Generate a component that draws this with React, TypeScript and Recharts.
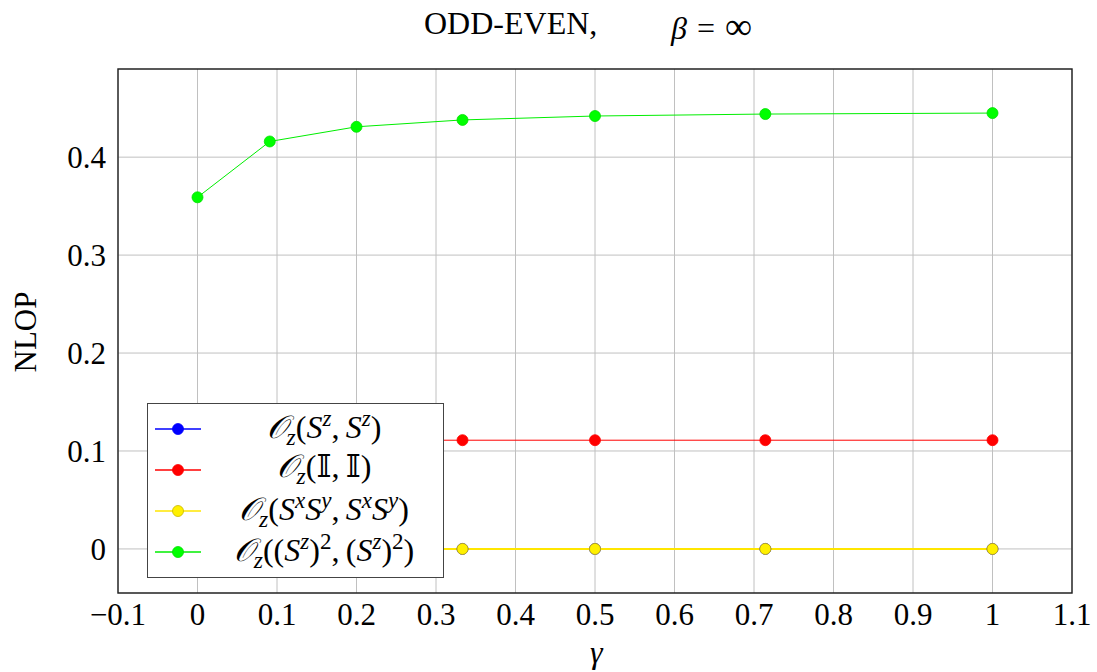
import React from 'react';
import { CartesianGrid, Legend, Line, LineChart, ReferenceArea, XAxis, YAxis } from 'recharts';

// gamma values on the x axis
const gamma = [0, 1 / 11, 1 / 5, 1 / 3, 1 / 2, 5 / 7, 1];

// NLOP series
const szSz = [0, 0, 0, 0, 0, 0, 0];
const idId = [0.111, 0.111, 0.111, 0.111, 0.111, 0.111, 0.111];
const sxsySxsy = [0, 0, 0, 0, 0, 0, 0];
const sz2Sz2 = [0.359, 0.416, 0.431, 0.438, 0.442, 0.444, 0.445];

const xTicks = [-0.1, 0, 0.1, 0.2, 0.3, 0.4, 0.5, 0.6, 0.7, 0.8, 0.9, 1, 1.1];
const yTicks = [0, 0.1, 0.2, 0.3, 0.4];

const data = gamma.map((g, i) => ({
  g,
  szSz: szSz[i],
  idId: idId[i],
  sxsySxsy: sxsySxsy[i],
  sz2Sz2: sz2Sz2[i],
}));

const FONT = '"Liberation Serif", "DejaVu Serif", serif';

const it = (s: string) => <i>{s}</i>;
const sub = (s: React.ReactNode) => (
  <span style={{ fontSize: '0.74em', verticalAlign: '-0.3em', fontStyle: 'italic' }}>{s}</span>
);
const sup = (s: React.ReactNode) => (
  <span style={{ fontSize: '0.72em', verticalAlign: '0.5em' }}>{s}</span>
);
const Oz = (
  <>
    <span style={{ fontStyle: 'italic' }}>𝒪</span>
    {sub('z')}
  </>
);
const comma = <span style={{ marginRight: '0.2em' }}>,</span>;

const series = [
  {
    key: 'szSz',
    color: '#0000ff',
    fill: '#0000ff',
    dotStroke: '#0000ff',
    crisp: true,
    label: (
      <>
        {Oz}({it('S')}{sup(it('z'))}{comma}{it('S')}{sup(it('z'))})
      </>
    ),
  },
  {
    key: 'idId',
    color: '#ff0000',
    fill: '#ff0000',
    dotStroke: '#ff0000',
    crisp: false,
    label: <>{Oz}(𝕀{comma}𝕀)</>,
  },
  {
    key: 'sxsySxsy',
    color: '#ffe600',
    fill: '#fff000',
    dotStroke: '#c9b800',
    crisp: true,
    label: (
      <>
        {Oz}({it('S')}{sup(it('x'))}{it('S')}{sup(it('y'))}{comma}{it('S')}{sup(it('x'))}{it('S')}{sup(it('y'))})
      </>
    ),
  },
  {
    key: 'sz2Sz2',
    color: '#00ee00',
    fill: '#00ff00',
    dotStroke: '#00e000',
    crisp: false,
    label: (
      <>
        {Oz}(({it('S')}{sup(it('z'))}){sup('2')}{comma}({it('S')}{sup(it('z'))}){sup('2')})
      </>
    ),
  },
];

const fmt = (v: number) => {
  if (v === 0) return '0';
  if (v === 1) return '1';
  return v.toFixed(1).replace('-', '\u2212');
};

const LegendBox = () => (
  <div
    style={{
      width: 297,
      height: 175,
      boxSizing: 'border-box',
      border: '1.5px solid #444',
      background: '#fff',
      paddingTop: 4,
      fontFamily: FONT,
    }}
  >
    {series.map((s) => (
      <div key={s.key} style={{ display: 'flex', alignItems: 'center', height: 41 }}>
        <svg width={50} height={20} style={{ marginLeft: 7, flexShrink: 0 }}>
          <line x1={0} x2={46} y1={10} y2={10} stroke={s.color} strokeWidth={1.3} />
          <circle cx={23} cy={10} r={5.5} fill={s.fill} stroke={s.dotStroke} strokeWidth={0.8} />
        </svg>
        <div style={{ flex: 1, textAlign: 'center', fontSize: 32, lineHeight: 1, whiteSpace: 'nowrap', color: '#000' }}>
          {s.label}
        </div>
      </div>
    ))}
  </div>
);

export default function App() {
  return (
    <div style={{ position: 'absolute', left: 0, top: 0, width: 1097, height: 672, background: '#fff', fontFamily: FONT }}>
      <LineChart
        width={1097}
        height={672}
        data={data}
        margin={{ top: 69, right: 25, bottom: 0, left: 0 }}
      >
        <CartesianGrid stroke="#c0c0c0" strokeWidth={1} horizontalValues={yTicks} verticalValues={xTicks} />
        <XAxis
          dataKey="g"
          type="number"
          domain={[-0.1, 1.1]}
          ticks={xTicks}
          tickFormatter={fmt}
          height={79}
          tickSize={0}
          tickMargin={10}
          axisLine={false}
          tick={{ fill: '#000', fontSize: 31, fontFamily: FONT }}
          interval={0}
          allowDataOverflow
        />
        <YAxis
          type="number"
          domain={[-0.045, 0.49]}
          ticks={yTicks}
          tickFormatter={fmt}
          width={118}
          tickSize={0}
          tickMargin={12}
          axisLine={false}
          tick={{ fill: '#000', fontSize: 31, fontFamily: FONT }}
          interval={0}
          allowDataOverflow
        />
        <ReferenceArea
          x1={-0.1}
          x2={1.1}
          y1={-0.045}
          y2={0.49}
          fill="none"
          stroke="#222"
          strokeWidth={1.4}
          ifOverflow="visible"
        />
        {series.map((s) => (
          <Line
            key={s.key}
            dataKey={s.key}
            type="linear"
            stroke={s.color}
            strokeWidth={s.crisp ? 1.5 : 1}
            shapeRendering={s.crisp ? 'crispEdges' : undefined}
            dot={{ r: 5.5, fill: s.fill, stroke: s.dotStroke, strokeWidth: 0.8, shapeRendering: 'auto' }}
            activeDot={false}
            isAnimationActive={false}
          />
        ))}
        <Legend
          layout="horizontal"
          verticalAlign="middle"
          align="center"
          content={() => <LegendBox />}
          wrapperStyle={{ left: 147, top: 403, width: 297, height: 175 }}
        />
      </LineChart>
      <div style={{ position: 'absolute', left: 424, top: 7, fontSize: 32, lineHeight: 1, whiteSpace: 'nowrap' }}>
        ODD-EVEN,
      </div>
      <div style={{ position: 'absolute', left: 671, top: 7, fontSize: 32, lineHeight: 1, whiteSpace: 'nowrap' }}>
        <i>β</i>
        <span style={{ marginLeft: 10, marginRight: 10 }}>=</span>
        <span style={{ fontSize: 38 }}>∞</span>
      </div>
      <div
        style={{
          position: 'absolute',
          left: 25,
          top: 332,
          fontSize: 31,
          lineHeight: 1,
          whiteSpace: 'nowrap',
          transform: 'translate(-50%, -50%) rotate(-90deg)',
        }}
      >
        NLOP
      </div>
      <div style={{ position: 'absolute', left: 590, top: 636, fontSize: 32, lineHeight: 1, fontStyle: 'italic' }}>γ</div>
    </div>
  );
}
